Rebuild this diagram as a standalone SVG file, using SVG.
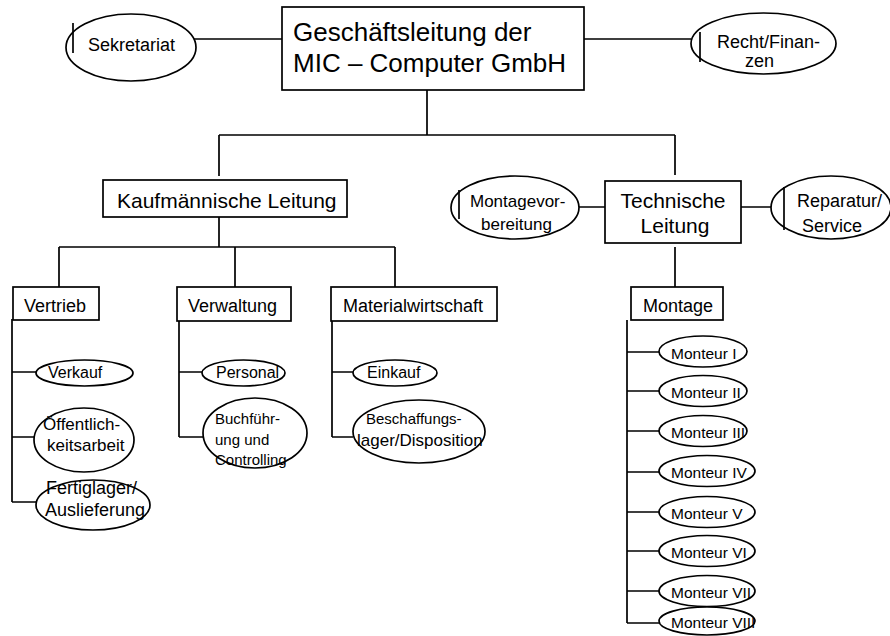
<svg xmlns="http://www.w3.org/2000/svg" width="890" height="636" viewBox="0 0 890 636">
<style>
.ln{stroke:#000;stroke-width:1.7;fill:none}
.bx{fill:#fff;stroke:#000;stroke-width:1.7}
text{font-family:"Liberation Sans",Arial,sans-serif;fill:#000}
.t26{font-size:26px}
.t21{font-size:21px}
.t18{font-size:18px}
.t17{font-size:17px}
.t16{font-size:16px}
.t15{font-size:15px}
.m{font-size:15.5px}
</style>
<rect width="890" height="636" fill="#fff"/>
<g id="connectors">
<path class="ln" d="M194,39H282 M584,39H691"/>
<path class="ln" d="M427,90V135 M219,135H675 M219,135V176 M675,135V175"/>
<path class="ln" d="M219,217V247 M59,247H395 M59,247V287 M235,247V287 M395,247V287"/>
<path class="ln" d="M675,247V287 M579,207H605 M741,207H771"/>
<path class="ln" d="M12,319V502 M12,372H36 M12,437H34 M12,502H36"/>
<path class="ln" d="M179,321V437 M179,372H202 M179,437H203"/>
<path class="ln" d="M332,321V437 M332,372H353 M332,437H353"/>
<path class="ln" d="M627,320V623 M627,352H659 M627,391H659 M627,431H659 M627,472H659 M627,512H659 M627,551H659 M627,591H659 M627,623H659"/>
</g>
<g id="geschaeftsleitung">
<rect class="bx" x="282" y="7" width="302" height="83"/>
<text class="t26" x="293" y="41">Geschäftsleitung der</text>
<text class="t26" x="293" y="72">MIC – Computer GmbH</text>
</g>
<g id="sekretariat">
<ellipse class="bx" cx="131" cy="47.5" rx="65" ry="33.5"/>
<path class="ln" d="M73,23V53"/>
<text class="t18" x="88" y="51">Sekretariat</text>
</g>
<g id="recht">
<ellipse class="bx" cx="763.5" cy="43.5" rx="72.5" ry="30.5"/>
<path class="ln" d="M700,32V62"/>
<text class="t18" x="717" y="48">Recht/Finan-</text>
<text class="t18" x="745" y="67">zen</text>
</g>
<g id="kaufmaennisch">
<rect class="bx" x="103" y="180" width="244" height="37"/>
<text class="t21" x="117" y="208">Kaufmännische Leitung</text>
</g>
<g id="technisch">
<rect class="bx" x="605" y="181" width="136" height="62"/>
<text class="t21" x="673" y="208" text-anchor="middle">Technische</text>
<text class="t21" x="675" y="233" text-anchor="middle">Leitung</text>
</g>
<g id="montagevorbereitung">
<ellipse class="bx" cx="515" cy="207.5" rx="64" ry="31.5"/>
<path class="ln" d="M459,190V219"/>
<text class="t17" x="470" y="207">Montagevor-</text>
<text class="t17" x="481" y="230">bereitung</text>
</g>
<g id="reparatur">
<ellipse class="bx" cx="831" cy="207.5" rx="60" ry="31.5"/>
<path class="ln" d="M784,187V230"/>
<text class="t18" x="797" y="207">Reparatur/</text>
<text class="t18" x="802" y="232">Service</text>
</g>
<g id="vertrieb">
<rect class="bx" x="13" y="287" width="86" height="33"/>
<text class="t18" x="24" y="312">Vertrieb</text>
</g>
<g id="verwaltung">
<rect class="bx" x="177" y="287" width="114" height="34"/>
<text class="t18" x="188" y="312">Verwaltung</text>
</g>
<g id="materialwirtschaft">
<rect class="bx" x="331" y="287" width="166" height="34"/>
<text class="t18" x="343" y="312">Materialwirtschaft</text>
</g>
<g id="montage">
<rect class="bx" x="631" y="287" width="92" height="33"/>
<text class="t18" x="643" y="312">Montage</text>
</g>
<g id="verkauf">
<ellipse class="bx" cx="84.5" cy="373" rx="48.5" ry="13"/>
<text class="t16" x="48" y="378">Verkauf</text>
</g>
<g id="oeffentlichkeitsarbeit">
<ellipse class="bx" cx="84" cy="440" rx="50" ry="32"/>
<text class="t17" x="43" y="430">Öffentlich-</text>
<text class="t17" x="47" y="451">keitsarbeit</text>
</g>
<g id="fertiglager">
<ellipse class="bx" cx="93" cy="505" rx="57" ry="25"/>
<text class="t18" x="46" y="494">Fertiglager/</text>
<text class="t18" x="45" y="516">Auslieferung</text>
</g>
<g id="personal">
<ellipse class="bx" cx="243.5" cy="373" rx="41.5" ry="13"/>
<text class="t16" x="216" y="378">Personal</text>
</g>
<g id="buchfuehrung">
<ellipse class="bx" cx="255" cy="433" rx="52" ry="35"/>
<text class="t15" x="215" y="424">Buchführ-</text>
<text class="t15" x="215" y="445">ung und</text>
<text class="t15" x="215" y="465">Controlling</text>
</g>
<g id="einkauf">
<ellipse class="bx" cx="395" cy="373" rx="42" ry="13"/>
<text class="t16" x="367" y="378">Einkauf</text>
</g>
<g id="beschaffung">
<ellipse class="bx" cx="419" cy="431.5" rx="66" ry="31.5"/>
<text class="t15" x="366" y="424">Beschaffungs-</text>
<text class="t17" x="357" y="446">lager/Disposition</text>
</g>
<g id="monteur1"><ellipse class="bx" cx="703" cy="351.5" rx="44" ry="15.5"/><text class="m" x="671" y="359">Monteur I</text></g>
<g id="monteur2"><ellipse class="bx" cx="703" cy="391" rx="44" ry="15.5"/><text class="m" x="671" y="398">Monteur II</text></g>
<g id="monteur3"><ellipse class="bx" cx="703" cy="431" rx="44" ry="15.5"/><text class="m" x="671" y="438">Monteur III</text></g>
<g id="monteur4"><ellipse class="bx" cx="707" cy="471" rx="48" ry="15.5"/><text class="m" x="671" y="478">Monteur IV</text></g>
<g id="monteur5"><ellipse class="bx" cx="707" cy="512" rx="48" ry="15.5"/><text class="m" x="671" y="519">Monteur V</text></g>
<g id="monteur6"><ellipse class="bx" cx="707" cy="551" rx="48" ry="15.5"/><text class="m" x="671" y="558">Monteur VI</text></g>
<g id="monteur7"><ellipse class="bx" cx="707" cy="591" rx="48" ry="15.5"/><text class="m" x="671" y="598">Monteur VII</text></g>
<g id="monteur8"><ellipse class="bx" cx="707" cy="621" rx="48" ry="14"/><text class="m" x="671" y="628">Monteur VIII</text></g>
</svg>
